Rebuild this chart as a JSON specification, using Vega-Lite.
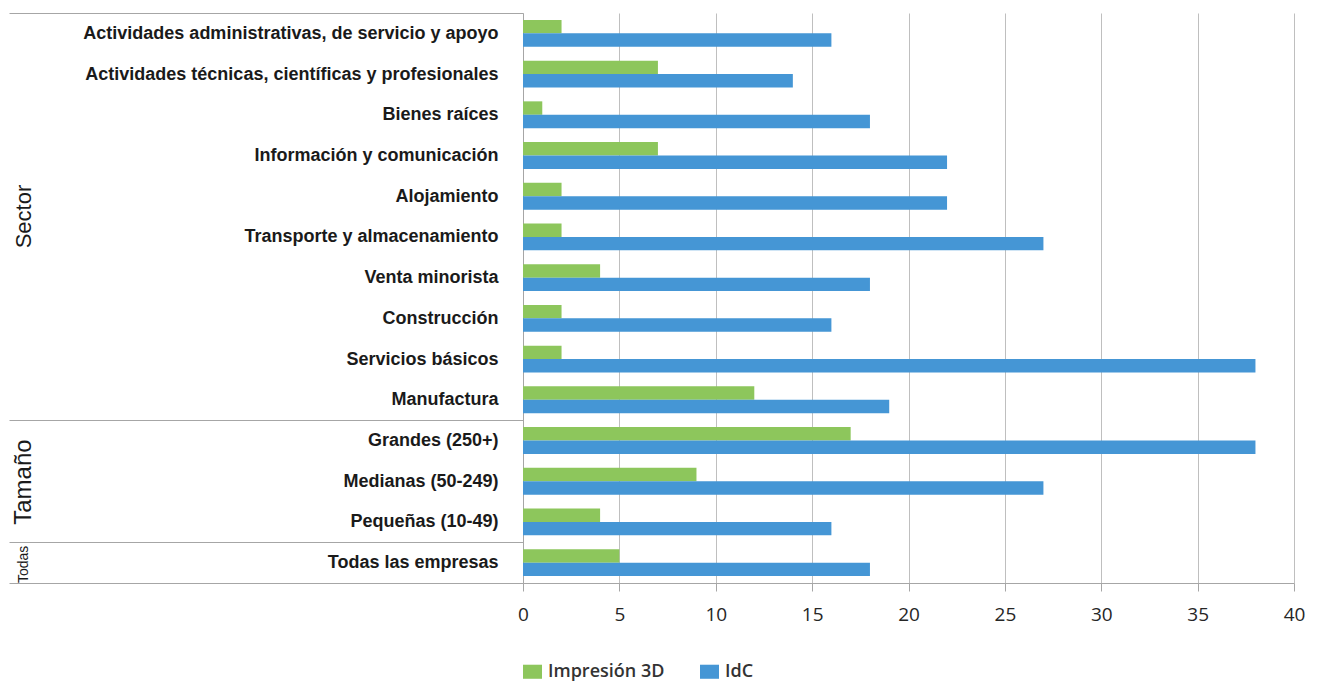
{
  "$schema": "https://vega.github.io/schema/vega-lite/v6.json",
  "padding": {"left": 8, "top": 4, "right": 10, "bottom": 5},
  "background": "white",
  "bounds": "flush",
  "spacing": 515,
  "hconcat": [
    {
      "spacing": 0,
      "bounds": "flush",
      "vconcat": [
        {
          "width": 32,
          "height": 407.14,
          "data": {"values": [{"grupo": "Sector"}]},
          "mark": {"type": "text", "angle": 270, "fontSize": 22, "font": "Liberation Sans", "color": "#1a1a1a"},
          "encoding": {"text": {"field": "grupo"}}
        },
        {
          "width": 32,
          "height": 122.14,
          "data": {"values": [{"grupo": "Tamaño"}]},
          "mark": {"type": "text", "angle": 270, "fontSize": 24, "font": "Liberation Sans", "color": "#1a1a1a"},
          "encoding": {"text": {"field": "grupo"}}
        },
        {
          "width": 32,
          "height": 40.72,
          "data": {"values": [{"grupo": "Todas"}]},
          "mark": {"type": "text", "angle": 270, "fontSize": 14, "font": "Liberation Sans", "color": "#1a1a1a"},
          "encoding": {"text": {"field": "grupo"}}
        }
      ]
    },
    {
      "width": 771,
      "height": 570,
      "data": {"values": [
        {"categoria": "Actividades administrativas, de servicio y apoyo", "serie": "Impresión 3D", "valor": 2},
        {"categoria": "Actividades administrativas, de servicio y apoyo", "serie": "IdC", "valor": 16},
        {"categoria": "Actividades técnicas, científicas y profesionales", "serie": "Impresión 3D", "valor": 7},
        {"categoria": "Actividades técnicas, científicas y profesionales", "serie": "IdC", "valor": 14},
        {"categoria": "Bienes raíces", "serie": "Impresión 3D", "valor": 1},
        {"categoria": "Bienes raíces", "serie": "IdC", "valor": 18},
        {"categoria": "Información y comunicación", "serie": "Impresión 3D", "valor": 7},
        {"categoria": "Información y comunicación", "serie": "IdC", "valor": 22},
        {"categoria": "Alojamiento", "serie": "Impresión 3D", "valor": 2},
        {"categoria": "Alojamiento", "serie": "IdC", "valor": 22},
        {"categoria": "Transporte y almacenamiento", "serie": "Impresión 3D", "valor": 2},
        {"categoria": "Transporte y almacenamiento", "serie": "IdC", "valor": 27},
        {"categoria": "Venta minorista", "serie": "Impresión 3D", "valor": 4},
        {"categoria": "Venta minorista", "serie": "IdC", "valor": 18},
        {"categoria": "Construcción", "serie": "Impresión 3D", "valor": 2},
        {"categoria": "Construcción", "serie": "IdC", "valor": 16},
        {"categoria": "Servicios básicos", "serie": "Impresión 3D", "valor": 2},
        {"categoria": "Servicios básicos", "serie": "IdC", "valor": 38},
        {"categoria": "Manufactura", "serie": "Impresión 3D", "valor": 12},
        {"categoria": "Manufactura", "serie": "IdC", "valor": 19},
        {"categoria": "Grandes (250+)", "serie": "Impresión 3D", "valor": 17},
        {"categoria": "Grandes (250+)", "serie": "IdC", "valor": 38},
        {"categoria": "Medianas (50-249)", "serie": "Impresión 3D", "valor": 9},
        {"categoria": "Medianas (50-249)", "serie": "IdC", "valor": 27},
        {"categoria": "Pequeñas (10-49)", "serie": "Impresión 3D", "valor": 4},
        {"categoria": "Pequeñas (10-49)", "serie": "IdC", "valor": 16},
        {"categoria": "Todas las empresas", "serie": "Impresión 3D", "valor": 5},
        {"categoria": "Todas las empresas", "serie": "IdC", "valor": 18}
      ]},
      "mark": {"type": "bar"},
      "encoding": {
        "y": {
          "field": "categoria", "type": "nominal",
          "sort": ["Actividades administrativas, de servicio y apoyo","Actividades técnicas, científicas y profesionales","Bienes raíces","Información y comunicación","Alojamiento","Transporte y almacenamiento","Venta minorista","Construcción","Servicios básicos","Manufactura","Grandes (250+)","Medianas (50-249)","Pequeñas (10-49)","Todas las empresas"],
          "scale": {"paddingInner": 0, "paddingOuter": 0},
          "axis": {
            "title": null,
            "domainColor": "#a6a6a6",
            "ticks": true,
            "tickBand": "extent",
            "tickSize": 514,
            "tickColor": "#a6a6a6",
            "tickWidth": 1,
            "tickOpacity": {"condition": {"test": "datum.extra || datum.value === 'Manufactura' || datum.value === 'Pequeñas (10-49)' || datum.value === 'Todas las empresas'", "value": 1}, "value": 0},
            "labelPadding": -489,
            "labelFont": "Liberation Sans",
            "labelFontWeight": "bold",
            "labelFontSize": 18,
            "labelColor": "#1a1a1a",
            "labelLimit": 600
          }
        },
        "yOffset": {
          "field": "serie", "type": "nominal",
          "sort": ["Impresión 3D", "IdC"],
          "scale": {"paddingInner": 0, "paddingOuter": 0.515}
        },
        "x": {
          "field": "valor", "type": "quantitative",
          "scale": {"domain": [0, 40], "nice": false},
          "axis": {
            "title": null,
            "values": [0, 5, 10, 15, 20, 25, 30, 35, 40],
            "grid": true,
            "gridColor": "#bfbfbf",
            "domainColor": "#a6a6a6",
            "tickColor": "#a6a6a6",
            "tickSize": 8,
            "labelFont": "Open Sans",
            "labelFontSize": 19,
            "labelColor": "#262626",
            "labelPadding": 14,
            "labelFlush": false
          }
        },
        "color": {
          "field": "serie", "type": "nominal",
          "scale": {"domain": ["Impresión 3D", "IdC"], "range": ["#8dc65c", "#4596d5"]},
          "legend": {
            "orient": "none",
            "legendX": 515,
            "legendY": 649,
            "direction": "horizontal",
            "title": null,
            "symbolType": "M-1,-0.74H1V0.74H-1Z",
            "symbolSize": 361,
            "symbolStrokeWidth": 0,
            "symbolOpacity": 1,
            "labelFont": "Open Sans",
            "labelFontSize": 18,
            "labelFontWeight": 600,
            "labelColor": "#333333",
            "labelOffset": 6,
            "columnPadding": 35
          }
        }
      }
    }
  ],
  "config": {"view": {"stroke": null}}
}
